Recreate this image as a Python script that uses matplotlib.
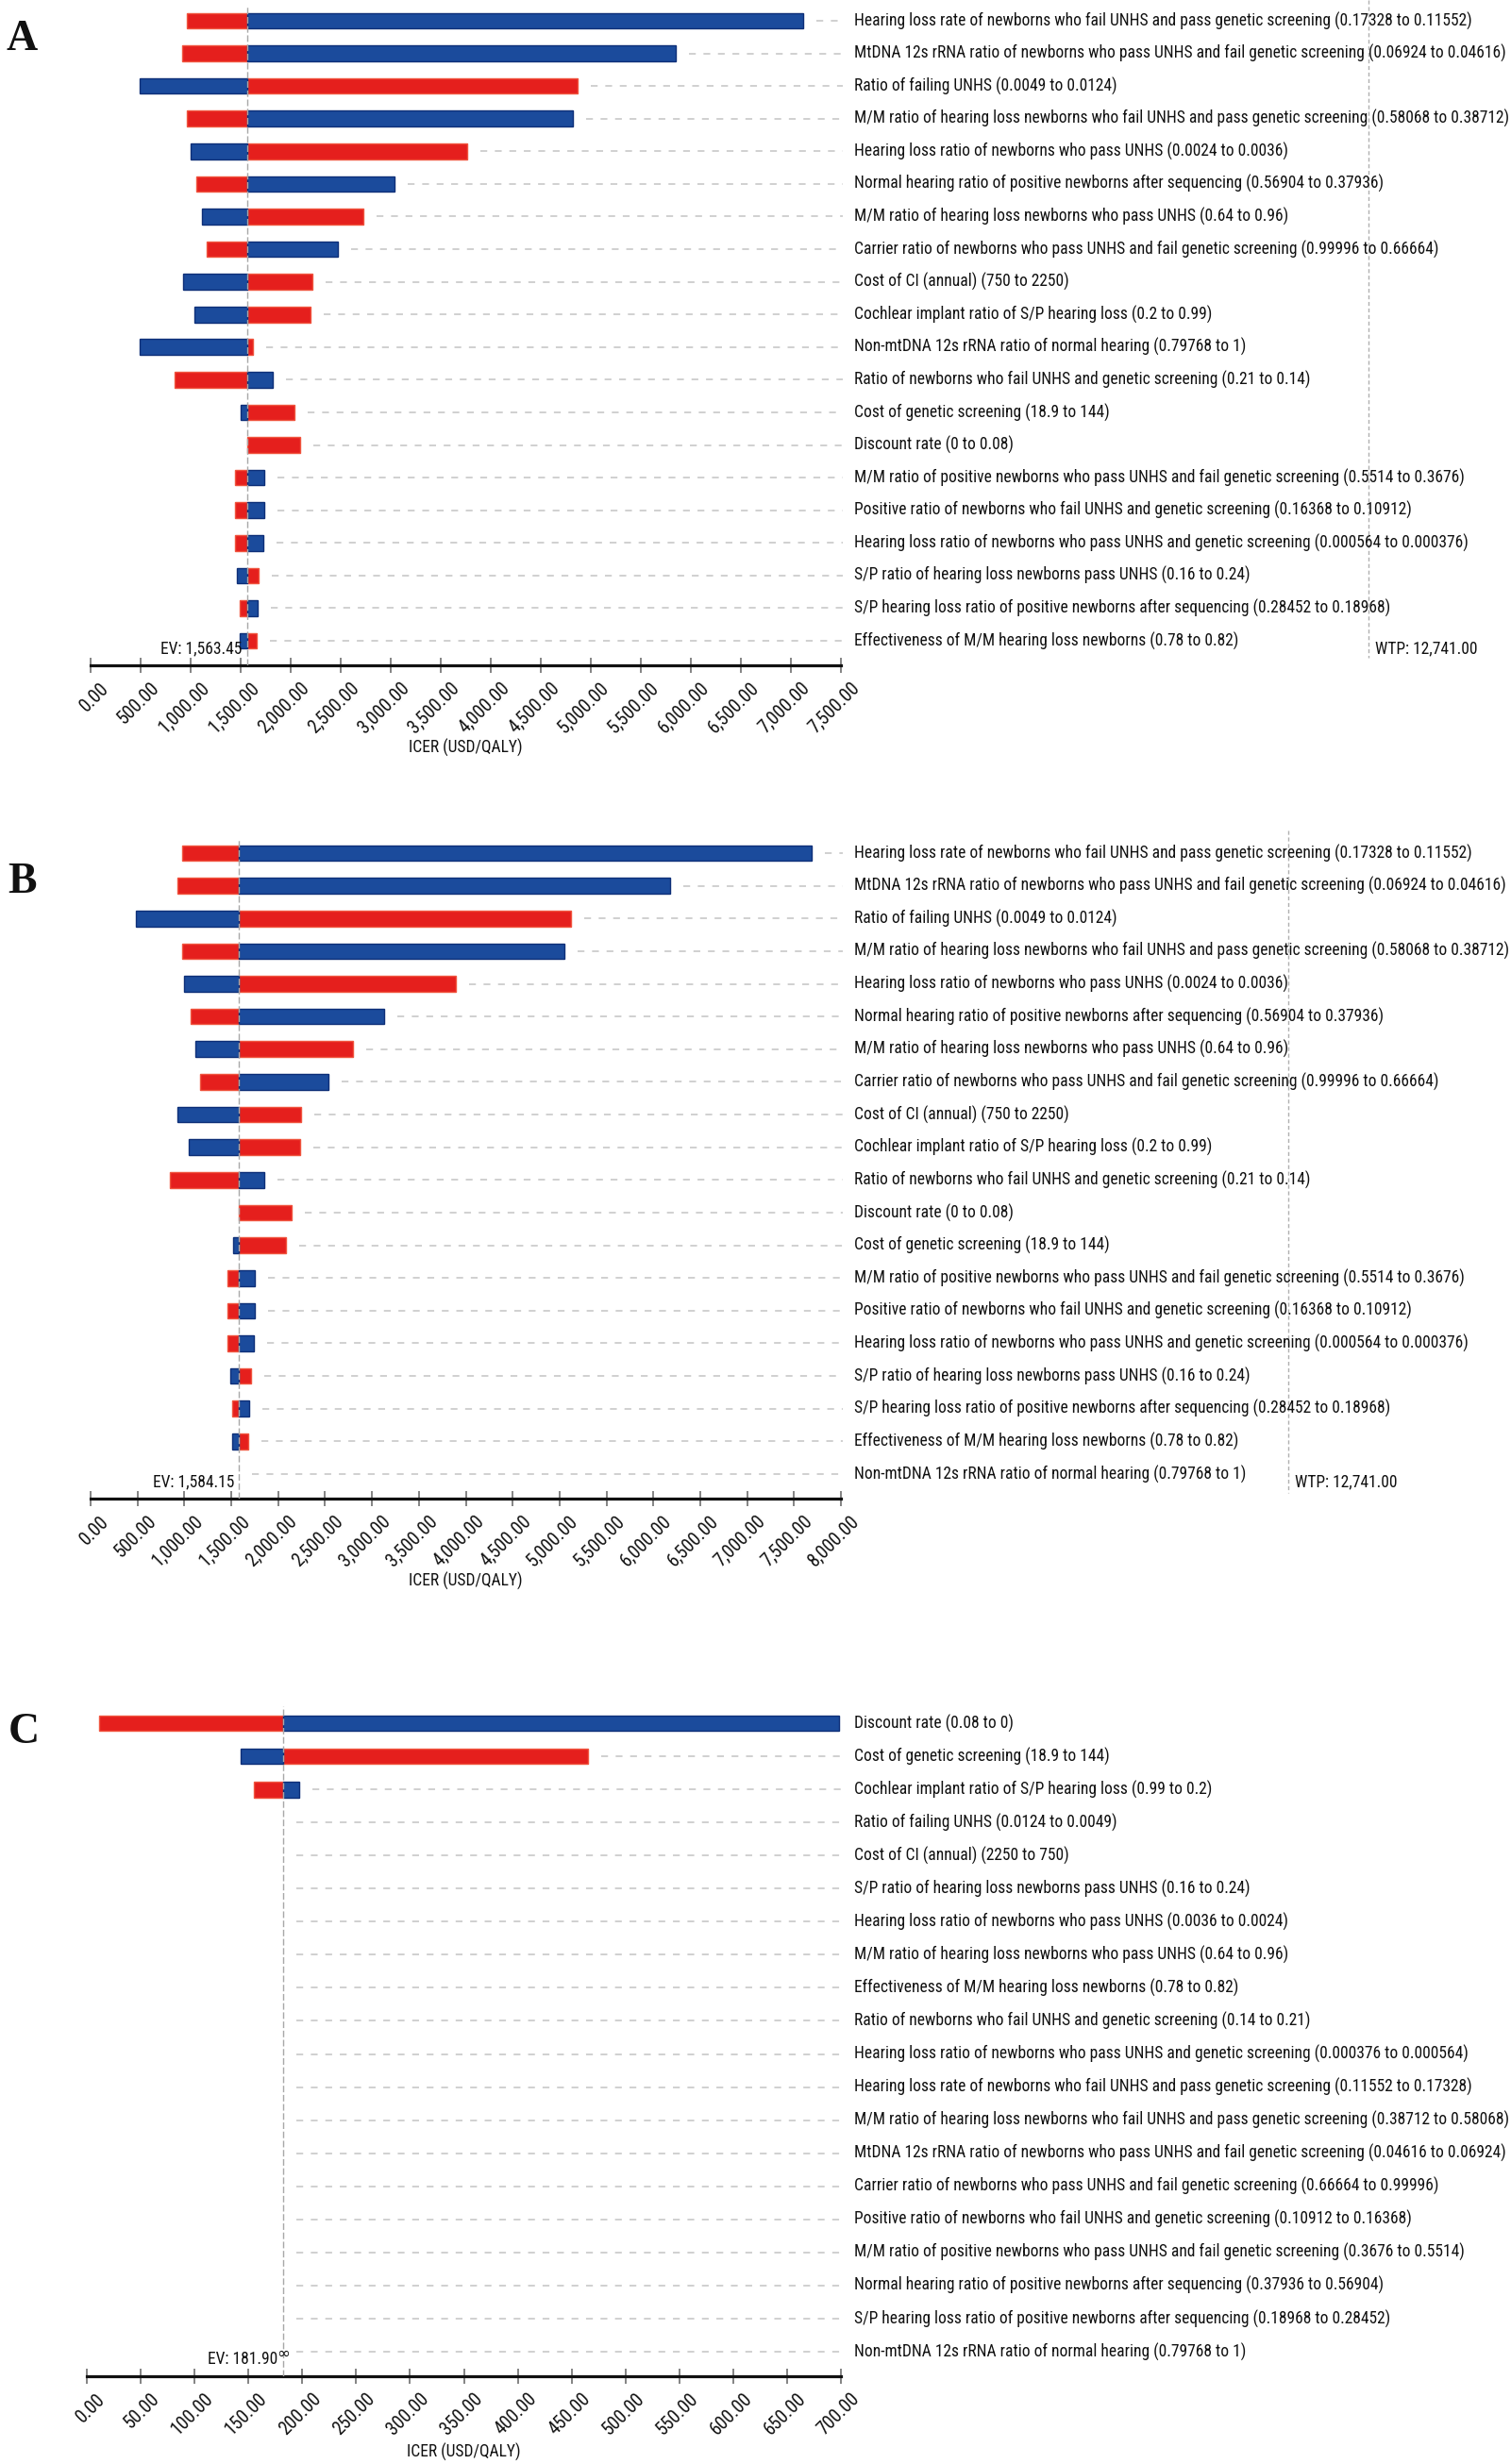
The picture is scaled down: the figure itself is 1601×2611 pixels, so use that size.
import numpy as np
import matplotlib
matplotlib.use('Agg')
import matplotlib.pyplot as plt
import matplotlib.font_manager as fm
import matplotlib.transforms as mt

# ---------------- DATA ----------------
labels_A = [
    "Hearing loss rate of newborns who fail UNHS and pass genetic screening (0.17328 to 0.11552)",
    "MtDNA 12s rRNA ratio of newborns who pass UNHS and fail genetic screening (0.06924 to 0.04616)",
    "Ratio of failing UNHS (0.0049 to 0.0124)",
    "M/M ratio of hearing loss newborns who fail UNHS and pass genetic screening (0.58068 to 0.38712)",
    "Hearing loss ratio of newborns who pass UNHS (0.0024 to 0.0036)",
    "Normal hearing ratio of positive newborns after sequencing (0.56904 to 0.37936)",
    "M/M ratio of hearing loss newborns who pass UNHS (0.64 to 0.96)",
    "Carrier ratio of newborns who pass UNHS and fail genetic screening (0.99996 to 0.66664)",
    "Cost of CI (annual) (750 to 2250)",
    "Cochlear implant ratio of S/P hearing loss (0.2 to 0.99)",
    "Non-mtDNA 12s rRNA ratio of normal hearing (0.79768 to 1)",
    "Ratio of newborns who fail UNHS and genetic screening (0.21 to 0.14)",
    "Cost of genetic screening (18.9 to 144)",
    "Discount rate (0 to 0.08)",
    "M/M ratio of positive newborns who pass UNHS and fail genetic screening (0.5514 to 0.3676)",
    "Positive ratio of newborns who fail UNHS and genetic screening (0.16368 to 0.10912)",
    "Hearing loss ratio of newborns who pass UNHS and genetic screening (0.000564 to 0.000376)",
    "S/P ratio of hearing loss newborns pass UNHS (0.16 to 0.24)",
    "S/P hearing loss ratio of positive newborns after sequencing (0.28452 to 0.18968)",
    "Effectiveness of M/M hearing loss newborns (0.78 to 0.82)",
]
ev_A = 1563.45
red_A = [963, 914, 4865, 963, 3761, 1055, 2727, 1158, 2213, 2197,
         1623, 839, 2040, 2094, 1439, 1439, 1439, 1683, 1488, 1661]
blue_A = [7121, 5849, 492, 4821, 996, 3041, 1109, 2468, 925, 1034,
          492, 1824, 1504, 1563.45, 1732, 1732, 1726, 1466, 1672, 1488]

labels_B = [
    "Hearing loss rate of newborns who fail UNHS and pass genetic screening (0.17328 to 0.11552)",
    "MtDNA 12s rRNA ratio of newborns who pass UNHS and fail genetic screening (0.06924 to 0.04616)",
    "Ratio of failing UNHS (0.0049 to 0.0124)",
    "M/M ratio of hearing loss newborns who fail UNHS and pass genetic screening (0.58068 to 0.38712)",
    "Hearing loss ratio of newborns who pass UNHS (0.0024 to 0.0036)",
    "Normal hearing ratio of positive newborns after sequencing (0.56904 to 0.37936)",
    "M/M ratio of hearing loss newborns who pass UNHS (0.64 to 0.96)",
    "Carrier ratio of newborns who pass UNHS and fail genetic screening (0.99996 to 0.66664)",
    "Cost of CI (annual) (750 to 2250)",
    "Cochlear implant ratio of S/P hearing loss (0.2 to 0.99)",
    "Ratio of newborns who fail UNHS and genetic screening (0.21 to 0.14)",
    "Discount rate (0 to 0.08)",
    "Cost of genetic screening (18.9 to 144)",
    "M/M ratio of positive newborns who pass UNHS and fail genetic screening (0.5514 to 0.3676)",
    "Positive ratio of newborns who fail UNHS and genetic screening (0.16368 to 0.10912)",
    "Hearing loss ratio of newborns who pass UNHS and genetic screening (0.000564 to 0.000376)",
    "S/P ratio of hearing loss newborns pass UNHS (0.16 to 0.24)",
    "S/P hearing loss ratio of positive newborns after sequencing (0.28452 to 0.18968)",
    "Effectiveness of M/M hearing loss newborns (0.78 to 0.82)",
    "Non-mtDNA 12s rRNA ratio of normal hearing (0.79768 to 1)",
]
ev_B = 1584.15
red_B = [975, 924, 5120, 975, 3896, 1062, 2799, 1166, 2240, 2234,
         843, 2147, 2078, 1455, 1455, 1455, 1714, 1512, 1680, 1584.15]
blue_B = [7688, 6176, 485, 5056, 999, 3128, 1120, 2534, 929, 1050,
          1847, 1584.15, 1518, 1755, 1755, 1743, 1489, 1691, 1512, 1584.15]

labels_C = [
    "Discount rate (0.08 to 0)",
    "Cost of genetic screening (18.9 to 144)",
    "Cochlear implant ratio of S/P hearing loss (0.99 to 0.2)",
    "Ratio of failing UNHS (0.0124 to 0.0049)",
    "Cost of CI (annual) (2250 to 750)",
    "S/P ratio of hearing loss newborns pass UNHS (0.16 to 0.24)",
    "Hearing loss ratio of newborns who pass UNHS (0.0036 to 0.0024)",
    "M/M ratio of hearing loss newborns who pass UNHS (0.64 to 0.96)",
    "Effectiveness of M/M hearing loss newborns (0.78 to 0.82)",
    "Ratio of newborns who fail UNHS and genetic screening (0.14 to 0.21)",
    "Hearing loss ratio of newborns who pass UNHS and genetic screening (0.000376 to 0.000564)",
    "Hearing loss rate of newborns who fail UNHS and pass genetic screening (0.11552 to 0.17328)",
    "M/M ratio of hearing loss newborns who fail UNHS and pass genetic screening (0.38712 to 0.58068)",
    "MtDNA 12s rRNA ratio of newborns who pass UNHS and fail genetic screening (0.04616 to 0.06924)",
    "Carrier ratio of newborns who pass UNHS and fail genetic screening (0.66664 to 0.99996)",
    "Positive ratio of newborns who fail UNHS and genetic screening (0.10912 to 0.16368)",
    "M/M ratio of positive newborns who pass UNHS and fail genetic screening (0.3676 to 0.5514)",
    "Normal hearing ratio of positive newborns after sequencing (0.37936 to 0.56904)",
    "S/P hearing loss ratio of positive newborns after sequencing (0.18968 to 0.28452)",
    "Non-mtDNA 12s rRNA ratio of normal hearing (0.79768 to 1)",
]
ev_C = 181.90
red_C = [11.6, 465, 155] + [181.90] * 17
blue_C = [698, 143, 197.5] + [181.90] * 17

wtp = 12741.00
xmax_A, xstep_A = 7500, 500
xmax_B, xstep_B = 8000, 500
xmax_C, xstep_C = 700, 50

# ---------------- STYLE ----------------
W, H, DPI = 1601, 2611, 100
RED, RED_E = '#E51F1D', '#F0553F'
BLUE, BLUE_E = '#1B4B9C', '#0E2F78'
GUIDE = '#CDCDCD'
TXT = '#111111'

installed = {f.name for f in fm.fontManager.ttflist}
FONT = 'Liberation Sans'
for p in ['Liberation Sans Narrow', 'Arial Narrow', 'Roboto Condensed',
          'Archivo Narrow', 'PT Sans Narrow']:
    if p in installed:
        FONT = p
        break
plt.rcParams['font.family'] = [FONT, 'DejaVu Sans']

fig = plt.figure(figsize=(W / DPI, H / DPI), dpi=DPI)
fig.patch.set_facecolor('white')
renderer = fig.canvas.get_renderer()
probe = fig.text(0, 0, labels_B[1], fontsize=13)
w13 = probe.get_window_extent(renderer).width
probe.remove()
# longest label in the reference spans ~690 px
FS = 13 * 688.0 / w13
FS = min(FS, 15.0)
TFS = FS * 1.12

LABEL_X = 905
GUIDE_END = 893


def panel(labels, red, blue, ev, xmax, step, L, R, top, bottom, row0, rowN,
          ev_text, ev_text_y, xlabel_y, letter, letter_xy, wtp_x=None,
          wtp_top=None, wtp_bot=None, wtp_text_y=None, extra=None):
    n = len(labels)
    s = (rowN - row0) / (n - 1)
    ax = fig.add_axes([L / W, 1 - bottom / H, (R - L) / W, (bottom - top) / H])
    ax.set_xlim(0, xmax)
    ax.set_ylim(n - 1 + (bottom - rowN) / s, -(row0 - top) / s)
    ax.patch.set_alpha(0)
    ppu = (R - L) / xmax

    def ypx(py):
        return (n - 1) + (py - rowN) / s

    def xpx(px):
        return (px - L) / ppu

    red = np.asarray(red, float)
    blue = np.asarray(blue, float)
    idx = np.arange(n)
    for vals, col, ec in ((red, RED, RED_E), (blue, BLUE, BLUE_E)):
        m = np.abs(vals - ev) > 1e-6
        ax.barh(idx[m], vals[m] - ev, left=ev, height=0.48, color=col,
                edgecolor=ec, linewidth=1.0, zorder=2)

    ax.axvline(ev, color='#A8A8A8', lw=1.0, ls=(0, (5, 2)), zorder=3)

    for i in range(n):
        end = max(red[i], blue[i], ev)
        x0 = end + 14 / ppu
        x1 = xpx(GUIDE_END)
        if x0 < x1:
            ax.plot([x0, x1], [i, i], color=GUIDE, lw=1.3, ls=(0, (4, 4.5)),
                    clip_on=False, zorder=1)
        ax.text(xpx(LABEL_X), i, labels[i], ha='left', va='center',
                fontsize=FS, color=TXT, clip_on=False)

    ax.text(ev - 5 / ppu, ypx(ev_text_y), ev_text, ha='right', va='center',
            fontsize=FS, color=TXT)
    if extra:
        ax.text(ev - 6 / ppu, ypx(ev_text_y - 6), '\u221e', ha='left',
                va='center', fontsize=FS * 0.95, color=TXT,
                family='DejaVu Sans')

    if wtp_x is not None:
        ax.plot([xpx(wtp_x)] * 2, [ypx(wtp_top), ypx(wtp_bot)],
                color='#B0B0B0', lw=1.0, ls=(0, (3, 2)), clip_on=False)
        ax.text(xpx(wtp_x + 7), ypx(wtp_text_y), f'WTP: {wtp:,.2f}',
                ha='left', va='center', fontsize=FS, color=TXT)

    for sp in ('top', 'left', 'right'):
        ax.spines[sp].set_visible(False)
    ax.spines['bottom'].set_linewidth(2.3)
    ax.spines['bottom'].set_color('#111111')
    ticks = np.arange(0, xmax + step / 2, step)
    ax.set_xticks(ticks)
    ax.set_xticklabels([f'{t:,.2f}' for t in ticks])
    ax.tick_params(axis='x', direction='inout', length=11, width=1.2,
                   color='#707070', pad=5, labelsize=TFS, labelcolor=TXT)
    ax.set_yticks([])
    off = mt.ScaledTranslation(10 / DPI, 0, fig.dpi_scale_trans)
    for lbl in ax.get_xticklabels():
        lbl.set_rotation(45)
        lbl.set_ha('right')
        lbl.set_va('top')
        lbl.set_rotation_mode('anchor')
        lbl.set_transform(lbl.get_transform() + off)

    fig.text(((L + R) / 2) / W, 1 - xlabel_y / H, 'ICER (USD/QALY)',
             ha='center', va='center', fontsize=FS, color=TXT)
    fig.text(letter_xy[0] / W, 1 - letter_xy[1] / H, letter,
             ha='center', va='center', fontsize=33, fontweight='bold',
             family='Liberation Serif', color='#111111')
    return ax


panel(labels_A, red_A, blue_A, ev_A, xmax_A, xstep_A, 96, 891, 5, 705, 22, 679,
      f'EV: {ev_A:,.2f}', 687, 792, 'A', (23, 42),
      wtp_x=1450, wtp_top=0, wtp_bot=697, wtp_text_y=687)
panel(labels_B, red_B, blue_B, ev_B, xmax_B, xstep_B, 96, 891, 890, 1588, 904, 1562,
      f'EV: {ev_B:,.2f}', 1570, 1675, 'B', (23, 935),
      wtp_x=1365, wtp_top=880, wtp_bot=1582, wtp_text_y=1570)
panel(labels_C, red_C, blue_C, ev_C, xmax_C, xstep_C, 92, 891, 1808, 2518, 1826, 2492,
      f'EV: {ev_C:,.2f}', 2500, 2598, 'C', (25, 1836), extra=True)

fig.savefig('out.png', dpi=DPI, facecolor='white')
